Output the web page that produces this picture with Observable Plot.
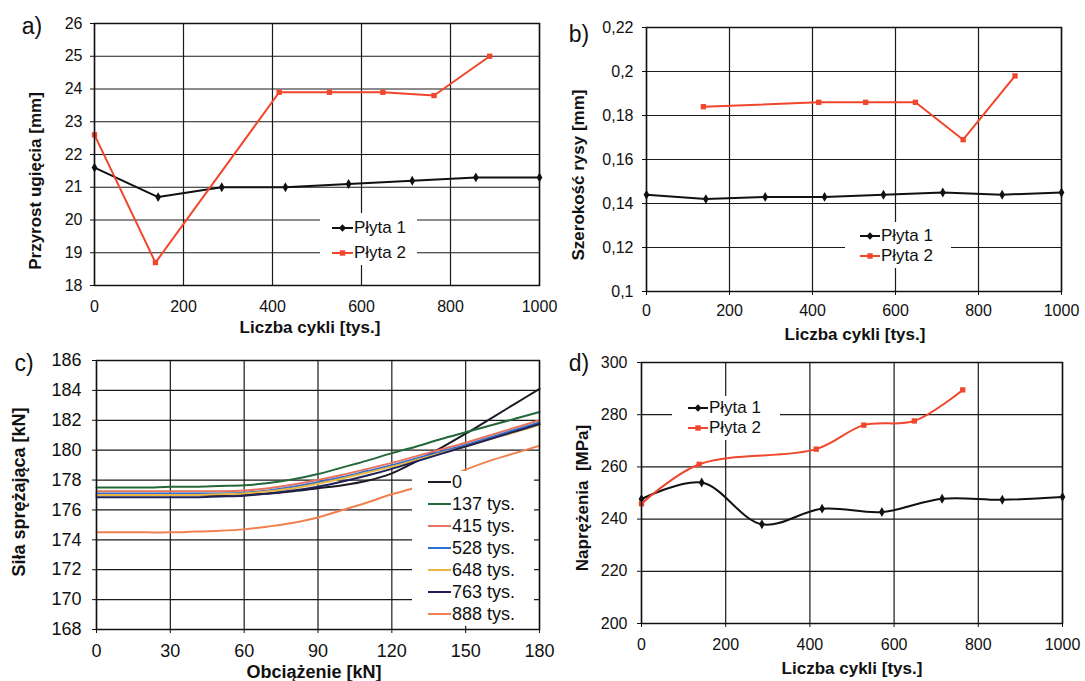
<!DOCTYPE html>
<html><head><meta charset="utf-8">
<script src="https://cdn.jsdelivr.net/npm/d3@7"></script>
<script src="https://cdn.jsdelivr.net/npm/@observablehq/plot@0.6"></script>
<style>
body{margin:0;background:#fff;}
#root{position:relative;width:1085px;height:681px;overflow:hidden;font-family:"Liberation Sans",Arial,sans-serif;color:#111;background:#fff;}
.plot{position:absolute;}
.lbl{position:absolute;white-space:pre;transform:translate(-50%,-50%);line-height:1;}
.legend{position:absolute;background:#fff;box-sizing:border-box;}
.row{display:flex;align-items:center;white-space:nowrap;}
</style></head><body><div id="root"></div><script>
// ---------- DATA ----------
const cyclesP1 = [0, 143, 286, 429, 571, 714, 857, 1000];
const cyclesP2 = [0, 137, 415, 528, 648, 763, 888];
const deflectionP1 = [21.6, 20.7, 21.0, 21.0, 21.1, 21.2, 21.3, 21.3];
const deflectionP2 = [22.6, 18.7, 23.9, 23.9, 23.9, 23.8, 25.0];

const crackCyclesP2 = [137, 415, 528, 648, 763, 888];
const crackP1 = [0.144, 0.142, 0.143, 0.143, 0.144, 0.145, 0.144, 0.145];
const crackP2 = [0.184, 0.186, 0.186, 0.186, 0.169, 0.198];

const stressCyclesP2 = [0, 137, 415, 528, 648, 763];
const stressP1 = [247.7, 254.0, 238.0, 244.0, 242.7, 247.8, 247.4, 248.5];
const stressP2 = [245.9, 261.0, 266.8, 276.0, 277.6, 289.5];

const loads = [0, 10, 20, 30, 40, 50, 60, 70, 80, 90, 100, 110, 120, 130, 140, 150, 160, 170, 180];
const seriesNames = ["0", "137 tys.", "415 tys.", "528 tys.", "648 tys.", "763 tys.", "888 tys."];
const force0   = [177.0,177.0,177.0,177.0,177.0,177.0,177.05,177.1,177.25,177.45,177.65,177.95,178.45,179.25,180.15,181.1,182.1,183.1,184.1];
const force137 = [177.5,177.5,177.5,177.55,177.55,177.6,177.65,177.8,178.05,178.4,178.85,179.3,179.8,180.25,180.75,181.2,181.65,182.1,182.55];
const force415 = [177.25,177.25,177.25,177.25,177.25,177.25,177.3,177.45,177.7,178.0,178.35,178.75,179.15,179.6,180.05,180.5,181.0,181.5,182.0];
const force528 = [177.1,177.1,177.1,177.1,177.1,177.1,177.15,177.3,177.55,177.85,178.2,178.6,179.0,179.45,179.9,180.35,180.85,181.35,181.85];
const force648 = [177.0,177.0,177.0,177.0,177.0,177.05,177.1,177.25,177.45,177.75,178.1,178.5,178.9,179.35,179.8,180.25,180.75,181.2,181.7];
const force763 = [176.85,176.85,176.85,176.85,176.85,176.9,176.95,177.1,177.3,177.55,177.9,178.3,178.75,179.25,179.75,180.25,180.75,181.25,181.75];
const force888 = [174.5,174.5,174.5,174.5,174.55,174.6,174.7,174.9,175.15,175.5,176.0,176.5,177.05,177.5,178.0,178.7,179.3,179.8,180.3];
const forceSeries = [force0, force137, force415, force528, force648, force763, force888];
const seriesColors = ["#1c1a24", "#23683a", "#e8735e", "#2f6fd2", "#e9b646", "#1e2056", "#f0804e"];

const cycleTicks = [0, 200, 400, 600, 800, 1000];
const deflTicks = [18, 19, 20, 21, 22, 23, 24, 25, 26];
const crackTicks = [0.1, 0.12, 0.14, 0.16, 0.18, 0.2, 0.22];
const loadTicks = [0, 30, 60, 90, 120, 150, 180];
const forceTicks = [168, 170, 172, 174, 176, 178, 180, 182, 184, 186];
const stressTicks = [200, 220, 240, 260, 280, 300];
const plateNames = ["Płyta 1", "Płyta 2"];

const BLACK = "#111";
const RED = "#f0462c";
const FONT = "Liberation Sans, Arial, sans-serif";

// ---------- HELPERS ----------
const root = document.getElementById("root");
const pts = (xs, ys) => xs.map((x, i) => ({x, y: ys[i]}));
const commaFmt = d => String(d).replace(".", ",");

function panel(o) {
  const svg = Plot.plot({
    width: o.width, height: o.height,
    marginLeft: o.ml, marginRight: o.mr, marginTop: o.mt, marginBottom: o.mb,
    style: {fontSize: o.fs + "px", fontFamily: FONT, color: BLACK, background: "transparent", overflow: "visible"},
    x: {domain: o.xDomain, ticks: o.xTicks, tickSize: o.xTickSize, tickPadding: o.xPad, label: null, tickFormat: d => String(d)},
    y: {domain: o.yDomain, ticks: o.yTicks, tickSize: 4, tickPadding: o.yPad, label: null, tickFormat: o.yFormat || (d => String(d))},
    marks: [
      Plot.ruleX(o.xTicks, {stroke: "#1a1a1a", strokeWidth: 1.2}),
      Plot.ruleY(o.yTicks, {stroke: "#1a1a1a", strokeWidth: 1.2}),
      ...o.marks,
      Plot.frame({stroke: BLACK, strokeWidth: 1.5})
    ]
  });
  svg.classList.add("plot");
  svg.style.left = o.left + "px";
  svg.style.top = o.top + "px";
  root.appendChild(svg);
}

function label(text, cx, cy, size, bold, rotate) {
  const d = document.createElement("div");
  d.className = "lbl";
  d.textContent = text;
  d.style.left = cx + "px";
  d.style.top = cy + "px";
  d.style.fontSize = size + "px";
  d.style.fontWeight = bold ? "bold" : "normal";
  if (rotate) d.style.transform = "translate(-50%,-50%) rotate(-90deg)";
  root.appendChild(d);
}

function legend(items, left, top, w, h, padTop, padLeft, rowH, size, sampleW) {
  const box = document.createElement("div");
  box.className = "legend";
  Object.assign(box.style, {left: left + "px", top: top + "px", width: w + "px", height: h + "px", paddingTop: padTop + "px", paddingLeft: padLeft + "px"});
  items.forEach(it => {
    const r = document.createElement("div");
    r.className = "row";
    r.style.height = rowH + "px";
    r.style.fontSize = size + "px";
    let marker = "";
    if (it.marker === "diamond") marker = `<path d="M${sampleW/2},1.2 L${sampleW/2+3.6},5 L${sampleW/2},8.8 L${sampleW/2-3.6},5Z" fill="${it.color}"/>`;
    if (it.marker === "square") marker = `<rect x="${sampleW/2-2.7}" y="2.3" width="5.4" height="5.4" fill="${it.color}"/>`;
    r.innerHTML = `<svg width="${sampleW}" height="10" style="flex:none;margin-right:1px"><line x1="0" x2="${sampleW}" y1="5" y2="5" stroke="${it.color}" stroke-width="2"/>${marker}</svg><span>${it.name}</span>`;
    box.appendChild(r);
  });
  root.appendChild(box);
}

// ---------- PANEL A ----------
panel({
  left: 0, top: 0, width: 560, height: 340, ml: 94, mr: 21, mt: 23, mb: 55, fs: 16,
  xDomain: [0, 1000], xTicks: cycleTicks, xTickSize: 0, xPad: 15,
  yDomain: [18, 26], yTicks: deflTicks, yPad: 8,
  marks: [
    Plot.line(pts(cyclesP1, deflectionP1), {x: "x", y: "y", stroke: BLACK, strokeWidth: 2}),
    Plot.line(pts(cyclesP2, deflectionP2), {x: "x", y: "y", stroke: RED, strokeWidth: 2}),
    Plot.dot(pts(cyclesP1, deflectionP1), {x: "x", y: "y", symbol: "diamond", fill: BLACK, r: 3}),
    Plot.dot(pts(cyclesP2, deflectionP2), {x: "x", y: "y", symbol: "square", fill: RED, r: 3})
  ]
});

// ---------- PANEL B ----------
panel({
  left: 545, top: 0, width: 540, height: 340, ml: 101, mr: 24, mt: 27, mb: 49, fs: 16,
  xDomain: [0, 1000], xTicks: cycleTicks, xTickSize: 4, xPad: 9,
  yDomain: [0.1, 0.22], yTicks: crackTicks, yPad: 9, yFormat: commaFmt,
  marks: [
    Plot.line(pts(cyclesP1, crackP1), {x: "x", y: "y", stroke: BLACK, strokeWidth: 2}),
    Plot.line(pts(crackCyclesP2, crackP2), {x: "x", y: "y", stroke: RED, strokeWidth: 2}),
    Plot.dot(pts(cyclesP1, crackP1), {x: "x", y: "y", symbol: "diamond", fill: BLACK, r: 3}),
    Plot.dot(pts(crackCyclesP2, crackP2), {x: "x", y: "y", symbol: "square", fill: RED, r: 3})
  ]
});

// ---------- PANEL C ----------
const forceData = seriesNames.flatMap((name, s) => loads.map((x, i) => ({x, y: forceSeries[s][i], name})));
panel({
  left: 0, top: 340, width: 560, height: 341, ml: 96, mr: 21, mt: 20, mb: 52, fs: 18,
  xDomain: [0, 180], xTicks: loadTicks, xTickSize: 4, xPad: 11,
  yDomain: [168, 186], yTicks: forceTicks, yPad: 11,
  marks: seriesNames.map((name, s) =>
    Plot.line(forceData.filter(d => d.name === name), {x: "x", y: "y", stroke: seriesColors[s], strokeWidth: 2, curve: "catmull-rom"})
  )
});

// ---------- PANEL D ----------
panel({
  left: 545, top: 340, width: 540, height: 341, ml: 96, mr: 23, mt: 22, mb: 58, fs: 16,
  xDomain: [0, 1000], xTicks: cycleTicks, xTickSize: 4, xPad: 11,
  yDomain: [200, 300], yTicks: stressTicks, yPad: 10,
  marks: [
    Plot.line(pts(cyclesP1, stressP1), {x: "x", y: "y", stroke: BLACK, strokeWidth: 2, curve: "catmull-rom"}),
    Plot.line(pts(stressCyclesP2, stressP2), {x: "x", y: "y", stroke: RED, strokeWidth: 2, curve: "catmull-rom"}),
    Plot.dot(pts(cyclesP1, stressP1), {x: "x", y: "y", symbol: "diamond", fill: BLACK, r: 3}),
    Plot.dot(pts(stressCyclesP2, stressP2), {x: "x", y: "y", symbol: "square", fill: RED, r: 3})
  ]
});

// ---------- LEGENDS ----------
const plateItems = [{name: plateNames[0], color: BLACK, marker: "diamond"}, {name: plateNames[1], color: RED, marker: "square"}];
legend(plateItems, 320, 213, 97, 52, 2, 12, 25, 17, 21);
legend(plateItems, 845, 222, 106, 46, 4, 15, 20, 17, 20);
legend(plateItems, 672, 396, 108, 44, 2, 16, 20, 17, 20);
legend(seriesNames.map((name, s) => ({name, color: seriesColors[s]})), 412, 471, 122, 155, 0, 16, 22, 18, 23);

// ---------- TEXT ----------
label("a)", 32, 26, 23, false);
label("b)", 579, 34, 23, false);
label("c)", 24, 363, 23, false);
label("d)", 579, 363, 23, false);

label("Liczba cykli [tys.]", 310, 327, 17, true);
label("Liczba cykli [tys.]", 855, 334, 17, true);
label("Obciążenie [kN]", 314, 672, 18, true);
label("Liczba cykli [tys.]", 852, 668, 17, true);

label("Przyrost ugięcia [mm]", 35, 181, 17, true, true);
label("Szerokość rysy [mm]", 578, 175, 17, true, true);
label("Siła sprężająca [kN]", 19, 492, 18, true, true);
label("Naprężenia  [MPa]", 582, 498, 17, true, true);
</script></body></html>
